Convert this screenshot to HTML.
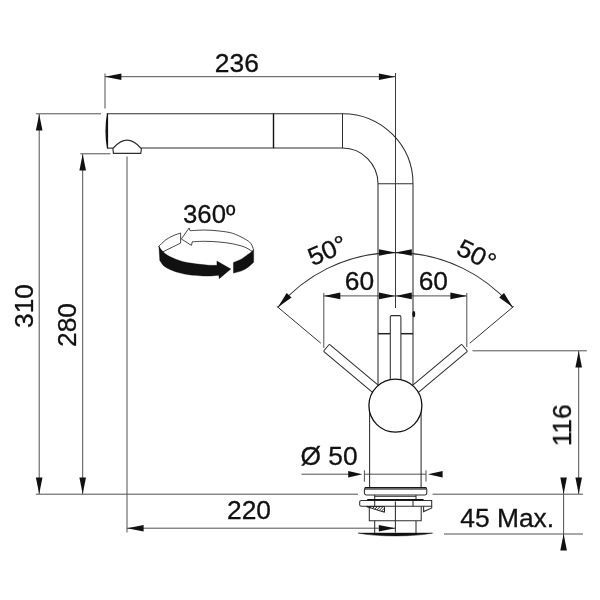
<!DOCTYPE html>
<html>
<head>
<meta charset="utf-8">
<title>Faucet dimensions</title>
<style>
html,body{margin:0;padding:0;background:#fff;}
body{width:600px;height:600px;overflow:hidden;}
svg{display:block;}
text{font-family:"Liberation Sans",sans-serif;fill:#111;stroke:#111;stroke-width:.3px;}
.l{stroke:#505050;stroke-width:1;fill:none;}
.t{stroke:#2e2e2e;stroke-width:1.05;fill:none;}
.b{stroke:#111;stroke-width:1.4;fill:none;}
.a{fill:#111;stroke:none;}
</style>
</head>
<body>
<svg width="600" height="600" viewBox="0 0 600 600">
<rect width="600" height="600" fill="#fff"/>

<!-- ===== dimension / extension lines ===== -->
<g class="l">
  <!-- 236 -->
  <line x1="105" y1="76.7" x2="395" y2="76.7"/>
  <line x1="105" y1="73.5" x2="105" y2="108.5"/>
  <line x1="395.5" y1="73" x2="395.5" y2="308" style="stroke:#3a3a3a"/>
  <!-- 310 -->
  <line x1="36" y1="113.8" x2="101" y2="113.8"/>
  <line x1="39.2" y1="114" x2="39.2" y2="494"/>
  <!-- 280 -->
  <line x1="80.3" y1="153.8" x2="110.5" y2="153.8"/>
  <line x1="82.7" y1="154" x2="82.7" y2="494"/>
  <!-- countertop -->
  <line x1="36" y1="494.2" x2="358" y2="494.2"/>
  <line x1="432.5" y1="494.2" x2="583" y2="494.2"/>
  <!-- 220 -->
  <line x1="127" y1="156.5" x2="127" y2="532.5"/>
  <line x1="127" y1="528.2" x2="395" y2="528.2"/>
  <!-- 45 max -->
  <line x1="444" y1="534" x2="583" y2="534"/>
  <line x1="563.6" y1="479" x2="563.6" y2="549"/>
  <!-- 116 -->
  <line x1="472.5" y1="350.8" x2="586.8" y2="350.8"/>
  <line x1="578.7" y1="351" x2="578.7" y2="494"/>
  <!-- 60 -->
  <line x1="323.8" y1="295.9" x2="466.8" y2="295.9"/>
  <line x1="323.8" y1="293" x2="323.8" y2="348"/>
  <line x1="466.8" y1="293" x2="466.8" y2="347"/>
  <!-- 50deg arc -->
  <path d="M277.9,307.3 A153.3,153.3 0 0 1 512.7,307.3" style="stroke:#333;stroke-width:1.1"/>
  <line x1="276.8" y1="306.3" x2="320.8" y2="343.2" style="stroke:#333"/>
  <line x1="513.8" y1="306.3" x2="469.8" y2="343.2" style="stroke:#333"/>
  <!-- dia 50 -->
  <line x1="301.5" y1="474.2" x2="349" y2="474.2"/>
  <line x1="364.4" y1="474.2" x2="426" y2="474.2"/>
  <line x1="364.4" y1="470.3" x2="364.4" y2="481.6"/>
  <line x1="426" y1="470.3" x2="426" y2="481.6"/>
</g>

<!-- ===== arrow heads ===== -->
<g class="a">
  <!-- 236 -->
  <polygon points="105.0,76.7 121.4,80.0 121.4,73.4"/>
  <polygon points="395.3,76.7 378.9,73.4 378.9,80.0"/>
  <!-- 310 -->
  <polygon points="39.2,114.2 35.9,130.6 42.5,130.6"/>
  <polygon points="39.2,494.0 42.5,477.6 35.9,477.6"/>
  <!-- 280 -->
  <polygon points="82.7,154.2 79.4,170.6 86.0,170.6"/>
  <polygon points="82.7,494.0 86.0,477.6 79.4,477.6"/>
  <!-- 220 -->
  <polygon points="127.2,528.2 143.6,531.5 143.6,524.9"/>
  <polygon points="395.2,528.2 378.8,524.9 378.8,531.5"/>
  <!-- 45 -->
  <polygon points="563.6,494.0 566.9,477.6 560.3,477.6"/>
  <polygon points="563.6,534.0 560.3,550.4 566.9,550.4"/>
  <!-- 116 -->
  <polygon points="578.7,351.0 575.4,367.4 582.0,367.4"/>
  <polygon points="578.7,494.0 582.0,477.6 575.4,477.6"/>
  <!-- 60 -->
  <polygon points="323.9,295.9 340.3,299.2 340.3,292.6"/>
  <polygon points="395.4,295.9 379.0,292.6 379.0,299.2"/>
  <polygon points="395.4,295.9 411.8,299.2 411.8,292.6"/>
  <polygon points="466.8,295.9 450.4,292.6 450.4,299.2"/>
  <!-- arc centre -->
  <polygon points="395.4,252.5 379.0,249.2 379.0,255.8"/>
  <polygon points="395.4,252.5 411.8,255.8 411.8,249.2"/>
  <!-- arc ends -->
  <polygon points="277.9,307.2 291.5,297.5 286.7,293.0"/>
  <polygon points="512.8,307.2 504.0,293.0 499.2,297.5"/>
  <!-- dia 50 -->
  <polygon points="362.4,474.2 348.2,471.0 348.2,477.4"/>
  <polygon points="428.0,474.2 442.6,477.4 442.6,471.0"/>
</g>

<!-- ===== faucet body ===== -->
<g class="t">
  <!-- spout outer / inner -->
  <path d="M106.8,113.7 H342.5 A70.5,70.1 0 0 1 413,183.8 V390"/>
  <path d="M141.3,148.05 H342.5 A35.5,35.75 0 0 1 378,183.8 V390"/>
  <line x1="342.5" y1="113.7" x2="342.5" y2="148.1"/>
  <line x1="378" y1="183.8" x2="413" y2="183.8"/>
  <!-- handle seat line -->
  <line x1="378" y1="333.7" x2="390.2" y2="333.7" style="stroke:#222;stroke-width:1.5"/>
  <line x1="400.8" y1="333.7" x2="413" y2="333.7" style="stroke:#222;stroke-width:1.5"/>
  <!-- lower body -->
  <line x1="369.6" y1="406" x2="369.6" y2="487.6"/>
  <line x1="421.1" y1="406" x2="421.1" y2="487.6"/>
</g>
<line class="b" x1="273.5" y1="113.7" x2="273.5" y2="148.1"/>
<!-- spout end -->
<path d="M107.5,113.8 L107.5,148 Q104.6,131 107.5,113.8 Z" fill="#111" stroke="#111" stroke-width="1.2" stroke-linejoin="round"/>
<line x1="107.4" y1="148.1" x2="113" y2="148.1" stroke="#222" stroke-width="1.1"/>
<!-- aerator -->
<path class="t" d="M113.4,148 Q127,132.2 140.7,148 L141.4,148.6 L140.8,153.4 H113.4 L112.9,148.6 Z" fill="#fff" style="stroke-width:1.15"/>
<!-- small dot -->
<ellipse cx="413.8" cy="314.1" rx="1.4" ry="3.2" fill="#111"/>

<!-- levers -->
<g class="t" fill="#fff">
  <rect x="390.3" y="315.6" width="10.6" height="90" rx="1.2" fill="#fff"/>
  <rect x="390.9" y="315.5" width="9.2" height="90" rx="1" fill="#fff" transform="rotate(-50 395.5 405.7)"/>
  <rect x="390.9" y="315.5" width="9.2" height="90" rx="1" fill="#fff" transform="rotate(50 395.5 405.7)"/>
</g>
<!-- knob -->
<circle cx="395.4" cy="405.6" r="26.5" fill="#fff" stroke="#111" stroke-width="1.3"/>

<!-- ===== base fittings ===== -->
<g class="t">
  <!-- flange ring -->
  <rect x="364.4" y="487.6" width="62.4" height="7.3" rx="1.8" fill="#fff"/>
  <line x1="365" y1="489.4" x2="426.2" y2="489.4" style="stroke-width:.7"/>
  <!-- neck -->
  <line x1="374.7" y1="495" x2="374.7" y2="506.2"/>
  <line x1="416" y1="495" x2="416" y2="500.4"/>
  <line x1="374.7" y1="496.4" x2="416" y2="496.4" style="stroke-width:.9"/>
  <!-- plate -->
  <path d="M361.3,500.4 H431.7 V506.2 H361.3 Q359.7,506.2 359.7,504.8 V501.8 Q359.7,500.4 361.3,500.4 Z"/>
  <line x1="413" y1="500.4" x2="413" y2="506.2"/>
  <!-- right notch -->
  <path d="M431.7,506.2 V508 L423.6,511.6 V506.2"/>
  <!-- lower block -->
  <path d="M369.3,506.2 V520.8 H421.2 V506.2"/>
  <!-- stem -->
  <line x1="374.7" y1="520.8" x2="374.7" y2="533.5"/>
  <line x1="416" y1="520.8" x2="416" y2="533.5"/>
  <!-- centre -->
  <line x1="395.4" y1="501.5" x2="395.4" y2="532.5"/>
</g>
<line x1="367.2" y1="499.8" x2="423.6" y2="499.8" stroke="#111" stroke-width="1.5"/>
<line x1="365" y1="487.9" x2="426.2" y2="487.9" stroke="#111" stroke-width="1.3"/>
<!-- hatched wedge -->
<path d="M366.6,506.6 H384.5 V512.3 Z" fill="#fff" stroke="#111" stroke-width=".9"/>
<g stroke="#111" stroke-width=".9">
  <line x1="370.2" y1="507.8" x2="371.4" y2="506.6"/>
  <line x1="372.4" y1="508.6" x2="374.4" y2="506.6"/>
  <line x1="374.6" y1="509.3" x2="377.3" y2="506.6"/>
  <line x1="376.8" y1="510" x2="380.2" y2="506.6"/>
  <line x1="379" y1="510.7" x2="383.1" y2="506.6"/>
  <line x1="381.2" y1="511.4" x2="384.5" y2="508.1"/>
  <line x1="383.3" y1="512" x2="384.5" y2="510.8"/>
</g>
<!-- bottom disc -->
<path d="M358.2,533.1 H432.6 Q418,535.9 395.4,535.9 Q373,535.9 358.2,533.1 Z" fill="#111" stroke="#111" stroke-width=".5"/>

<!-- ===== rotation icon ===== -->
<g transform="translate(150,220) scale(0.183333)" stroke-linejoin="miter">
  <path d="M48.4,143.4 C54.6,137.6 73.0,118.0 85.9,108.4 C98.8,98.8 112.4,92.2 125.9,85.9 C139.4,79.7 160.1,73.4 166.9,70.9 L166.9,125.9 L70.9,173.4 C68.4,171.2 59.8,165.0 56.0,160.0 C52.2,155.0 49.7,146.2 48.4,143.4 Z" fill="#fff" stroke="#111" stroke-width="4.2"/>
  <path d="M170.9,103.4 L213.4,43.4 L218.4,58.4 C232.0,57.8 273.9,54.6 300.0,54.8 C326.1,55.0 350.0,56.9 375.0,59.8 C400.0,62.7 426.7,65.2 450.0,72.3 C473.3,79.4 498.3,93.1 515.0,102.3 C531.7,111.5 541.7,117.2 550.0,127.3 C558.3,137.4 562.5,157.1 565.0,163.0 L557,171 C550.0,167.1 532.8,154.2 515.0,147.3 C497.2,140.4 473.3,134.4 450.0,129.8 C426.7,125.2 400.0,122.0 375.0,119.8 C350.0,117.5 324.0,116.5 300.0,116.3 C276.0,116.1 242.4,118.1 230.9,118.4 L225.9,138.4 Z" fill="#fff" stroke="#111" stroke-width="4.2"/>
  <path d="M48.4,143.4 C52.1,148.4 60.5,163.8 70.9,173.4 C81.3,183.0 95.9,193.0 110.9,200.9 C125.9,208.8 144.2,215.5 160.9,220.9 C177.6,226.3 185.9,229.2 210.9,233.4 C235.9,237.6 285.2,243.6 310.9,245.9 C336.6,248.2 356.0,247.2 365.0,247.5 L365,224 L441,267 L377.5,320 L375,301 C364.3,301.8 338.2,306.3 310.9,305.9 C283.5,305.5 235.9,301.3 210.9,298.4 C185.9,295.5 177.6,293.0 160.9,288.4 C144.2,283.8 125.1,277.1 110.9,270.9 C96.7,264.6 85.5,259.2 75.9,250.9 C66.3,242.6 57.1,225.9 53.4,220.9 Z" fill="#111" stroke="#111" stroke-width="2"/>
  <path d="M455.0,231.3 C462.5,228.1 486.7,219.6 500.0,212.3 C513.3,205.0 524.1,195.5 535.0,187.3 C545.9,179.1 560.4,167.1 565.5,163.0 L565.5,230 C560.4,234.6 545.9,249.4 535.0,257.3 C524.1,265.2 513.3,271.9 500.0,277.3 C486.7,282.7 462.5,287.6 455.0,289.6 Z" fill="#111" stroke="#111" stroke-width="2"/>
</g>

<!-- ===== labels ===== -->
<g font-size="25" text-anchor="middle" style="opacity:.999">
  <text transform="translate(236.8,72) scale(1.055,1)">236</text>
  <text transform="translate(209.2,223.1) scale(1.03,1)">360º</text>
  <text transform="translate(359.4,290) scale(1.055,1)">60</text>
  <text transform="translate(433.3,290) scale(1.055,1)">60</text>
  <text transform="translate(249,519) scale(1.055,1)">220</text>
  <text transform="translate(329,465) scale(1.055,1)">Ø 50</text>
  <text transform="translate(507.2,527) scale(1.055,1)">45 Max.</text>
  <text transform="translate(32.6,306) rotate(-90) scale(1.055,1)">310</text>
  <text transform="translate(75.6,325) rotate(-90) scale(1.055,1)">280</text>
  <text transform="translate(571,425.3) rotate(-90) scale(1.055,1)">116</text>
  <text transform="translate(330.7,258.3) rotate(-23.5) scale(1.055,1)">50°</text>
  <text transform="translate(472.8,262.6) rotate(27) scale(1.055,1)">50°</text>
</g>
</svg>
</body>
</html>
